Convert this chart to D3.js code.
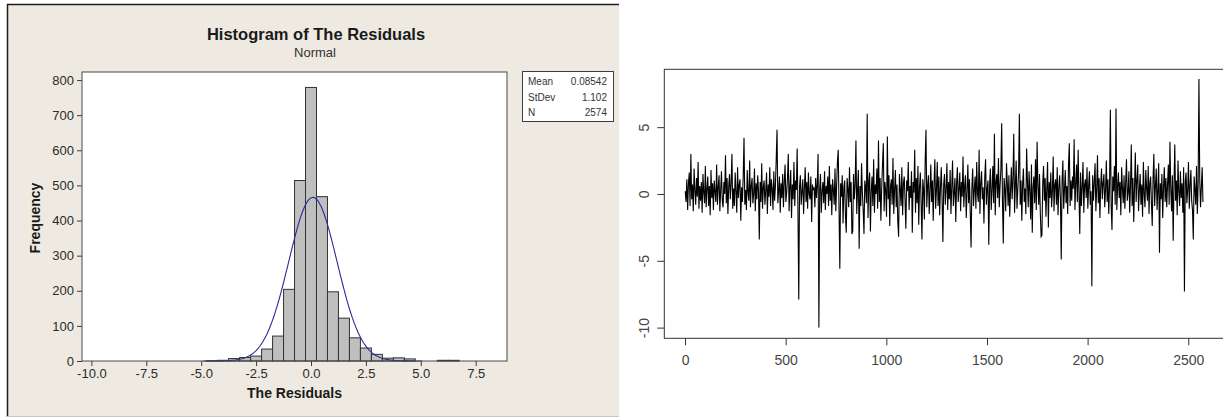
<!DOCTYPE html>
<html>
<head>
<meta charset="utf-8">
<script src="https://cdn.jsdelivr.net/npm/d3@7"></script>
<style>
  html, body { margin: 0; padding: 0; background: #fff; }
  svg { display: block; }
  .mt { font-family: "Liberation Sans", Arial, sans-serif; }
  .rt { font-family: "Liberation Sans", Arial, sans-serif; }
</style>
</head>
<body>
<svg id="chart"></svg>
<script>
// histogram bins (centre of each 0.5 wide bin) and counts
const binCenters = [-4.5, -4.0, -3.5, -3.0, -2.5, -2.0, -1.5, -1.0, -0.5, 0.0, 0.5, 1.0, 1.5, 2.0, 2.5, 3.0, 3.5, 4.0, 4.5, 5.0, 5.5, 6.0, 6.5];
const binCounts  = [1, 2, 7, 10, 14, 34, 71, 204, 514, 779, 468, 197, 122, 66, 37, 19, 8, 9, 6, 0, 0, 2, 2];
const binWidth = 0.5;

const histXTicks = [-10.0, -7.5, -5.0, -2.5, 0.0, 2.5, 5.0, 7.5];
const histYTicks = [0, 100, 200, 300, 400, 500, 600, 700, 800];

const statLabels = ["Mean", "StDev", "N"];
const statValues = ["0.08542", "1.102", "2574"];
const fitMean = 0.08542, fitSd = 1.102, fitN = 2574;

// residual series, one value every 4th observation (obs 1, 5, 9, ...)
const resA = [
  0.2,-0.6,1.1,-1.2,0.8,1.6,-0.9,3.0,-0.4,0.7,-1.3,1.9,0.3,-0.8,1.2,-0.2,2.4,-1.1,0.6,-0.5,
  0.9,-1.4,1.5,0.1,-0.7,2.1,-1.0,0.4,1.3,-0.9,0.6,-1.6,1.8,-0.3,0.8,-1.2,1.0,0.2,-0.6,2.2,
  -0.8,0.5,1.4,-1.3,0.3,1.7,-0.5,-1.0,0.9,0.0,2.9,-0.7,1.2,-1.5,0.6,1.5,-0.4,0.8,3.0,-1.1,
  0.4,-0.9,1.6,0.2,-1.4,2.0,-0.3,0.7,1.1,-2.0,0.5,-0.6,1.3,4.2,-0.8,0.3,-1.2,1.8,0.1,-0.5,
  2.5,-1.0,0.6,1.2,-0.7,0.0,1.9,-1.3,0.8,-0.4,1.4,0.2,-3.4,0.9,-0.6,2.3,-1.1,0.5,1.0,-0.8,
  0.3,1.6,-1.5,0.7,-0.2,2.0,-0.9,1.1,0.4,-1.2,1.7,-0.5,0.6,2.6,4.8,-0.7,0.2,1.3,-1.4,0.8,
  -0.3,1.5,-1.0,0.9,2.2,-0.6,0.1,1.2,3.0,-1.3,0.5,1.8,-1.8,0.7,-0.4,2.4,-0.9,1.0,0.3,3.4,
  -1.2,-7.9,0.6,1.4,-0.8,0.2,1.1,-1.5,0.4,2.0,-0.6,0.9,-1.1,1.6,0.0,-0.4,1.3,-2.1,0.7,0.3
];
const resB = [
  0.5,-1.0,1.2,-0.3,0.8,3.0,-10.0,0.4,1.5,-1.4,0.2,0.9,-0.7,1.7,-1.2,0.6,0.0,1.3,-0.9,2.1,
  -0.5,0.7,-1.6,1.1,0.3,-0.8,1.9,-1.3,0.6,2.4,3.3,-1.1,-5.6,0.8,-0.2,1.4,-2.2,0.5,1.0,-1.7,
  -2.9,1.2,0.4,-1.0,2.0,-0.6,0.9,-3.0,-2.8,1.5,-0.4,0.7,4.0,-1.5,0.3,1.8,-4.1,0.6,-0.9,2.3,
  0.1,-1.2,-3.0,1.0,0.5,-0.7,6.0,-1.8,0.8,1.6,-2.8,0.2,1.3,-0.9,2.6,-1.4,0.7,0.0,1.9,-1.1,
  4.0,-0.6,1.2,-2.0,0.5,2.2,3.8,-1.3,0.9,0.2,-1.7,4.3,-0.4,1.4,-2.4,0.6,1.1,-0.8,2.7,-1.5,
  0.3,1.8,-1.0,0.7,-2.1,-3.2,1.5,0.4,-0.9,2.0,-1.6,0.8,1.3,-0.5,-2.6,1.0,0.2,2.4,-1.2,0.6,
  -0.3,1.7,-2.9,0.9,0.1,3.3,-1.4,1.2,-0.7,2.1,-2.3,0.5,1.6,-0.8,-3.4,1.1,0.4,-1.9,2.5,4.8,
  -1.0,0.6,1.4,-1.5,0.2,2.2,-0.6,1.0,-2.0,0.8,2.6,-1.1,0.3,2.4,-0.9,1.3,-1.6,0.5,2.0,-0.4
];
const resC = [
  -3.6,0.7,1.5,-0.8,0.3,2.3,-1.2,0.9,-0.4,1.8,-1.5,0.5,2.5,-0.9,0.1,1.2,-2.1,0.8,2.0,-0.6,
  0.4,1.6,-1.3,0.9,-0.2,2.8,-1.0,0.6,1.4,-1.8,0.2,2.2,-0.7,1.1,-1.4,-4.0,0.5,1.9,-0.9,0.3,
  1.3,-1.1,2.4,0.0,-0.6,3.3,-1.5,0.8,1.7,-0.4,0.5,-2.2,1.2,2.6,-0.8,0.4,1.0,-3.8,0.7,1.9,
  -1.2,0.3,2.1,-0.7,4.5,-1.6,0.9,1.5,-0.3,2.7,-1.0,0.6,1.8,5.3,-0.5,-3.7,1.2,0.4,-1.3,2.3,
  0.8,-0.9,1.4,-1.7,0.2,2.0,-0.4,1.1,4.5,-1.4,0.6,2.5,-1.1,0.3,1.6,6.0,-0.8,1.0,-2.0,0.7,
  1.9,-0.6,0.4,-1.5,3.4,0.9,-1.0,1.7,0.2,-1.9,2.2,-2.9,0.5,1.3,-0.7,2.6,-1.2,3.9,0.6,-0.8,
  1.5,-1.4,-3.2,-3.1,0.8,2.1,-0.5,1.2,-1.7,0.4,2.4,-2.5,0.9,-0.3,1.6,-1.0,0.2,2.8,-1.3,0.7,
  1.1,-0.8,2.0,-1.6,0.5,1.4,-0.4,-4.9,0.9,2.5,-1.1,0.3,1.8,-0.7,0.6,-1.5,2.2,3.8,-0.9,1.0
];
const resD = [
  -0.5,1.3,0.4,4.1,-1.2,0.8,2.2,-0.6,3.3,0.1,-3.0,1.6,-0.9,0.5,2.4,-1.4,0.7,1.1,-0.3,2.0,
  -1.1,0.6,1.7,-0.8,0.2,-6.9,1.4,-0.5,0.9,2.3,-1.3,0.4,2.9,-0.7,1.2,-1.8,0.6,1.9,-0.4,0.8,
  1.5,-1.0,0.3,2.5,-0.6,1.1,-1.5,0.7,6.3,-0.9,-2.7,1.3,0.2,2.1,-0.8,6.4,-1.2,0.5,1.6,-0.3,
  0.9,-1.6,2.0,0.4,-0.7,1.4,-1.1,0.8,2.6,-0.5,0.1,1.7,-1.4,0.6,3.7,-0.9,1.2,-2.1,0.5,3.1,
  -0.6,1.0,2.2,-1.3,0.3,1.5,-0.8,0.7,-1.7,2.4,0.0,-1.0,1.8,0.4,-0.5,2.1,-1.5,0.9,1.3,-0.7,
  -2.4,1.1,3.0,-0.9,0.6,1.9,-1.2,0.3,2.3,-4.4,0.8,-0.4,1.5,-1.8,0.5,2.0,-0.6,1.2,-1.0,0.7,
  2.2,-0.8,3.9,0.4,-1.3,1.4,-3.5,0.6,3.7,-0.5,1.0,-1.6,2.5,0.2,-0.9,1.7,-0.3,0.8,-1.4,2.0,
  -7.3,0.9,1.6,-0.7,0.3,2.4,-1.1,0.6,1.8,-0.5,-1.2,-3.4,1.3,0.4,-0.8,2.1,-1.5,0.7,8.6,1.1,
  -1.0,0.5,2.0,-0.6
];
const sampleStep = 4;
const seriesXTicks = [0, 500, 1000, 1500, 2000, 2500];
const seriesYTicks = [-10, -5, 0, 5];

const W = 1223, H = 418;
const svg = d3.select("#chart").attr("width", W).attr("height", H);

// ---------- left: Minitab style histogram ----------
const panel = svg.append("g").attr("class", "mt");

panel.append("rect")
    .attr("x", 7).attr("y", 4).attr("width", 612).attr("height", 413)
    .attr("fill", "#eeeae1");
panel.append("path")
    .attr("d", "M7.5,417 V4.5 H619")
    .attr("fill", "none").attr("stroke", "#1e1e1e").attr("stroke-width", 1.5);
panel.append("line")
    .attr("x1", 7).attr("x2", 619).attr("y1", 416.5).attr("y2", 416.5)
    .attr("stroke", "#c8c6c0");

const hx = d3.scaleLinear().domain([-10.428, 8.925]).range([82, 507]);
const hy = d3.scaleLinear().domain([0, 823]).range([361, 72]);

panel.append("rect")
    .attr("x", 82).attr("y", 72).attr("width", 425).attr("height", 289)
    .attr("fill", "#fff");

panel.selectAll(".bar")
    .data(binCenters.map((c, i) => ({c, n: binCounts[i]})).filter(d => d.n > 0))
    .enter().append("rect")
    .attr("class", "bar")
    .attr("x", d => hx(d.c - binWidth / 2))
    .attr("width", d => hx(d.c + binWidth / 2) - hx(d.c - binWidth / 2))
    .attr("y", d => hy(d.n))
    .attr("height", d => hy(0) - hy(d.n))
    .attr("fill", "#bfbfbf")
    .attr("stroke", "#333")
    .attr("stroke-width", 1);

// fitted normal curve from the stats in the box
const pdf = x => fitN * binWidth / (fitSd * Math.sqrt(2 * Math.PI)) * Math.exp(-0.5 * ((x - fitMean) / fitSd) ** 2);
const curveXs = d3.range(-4.9, 5.1, 0.05);
panel.append("path")
    .datum(curveXs)
    .attr("d", d3.line().x(x => hx(x)).y(x => hy(pdf(x))))
    .attr("fill", "none")
    .attr("stroke", "#2a2a9c")
    .attr("stroke-width", 1.1);

panel.append("rect")
    .attr("x", 82).attr("y", 72).attr("width", 425).attr("height", 289)
    .attr("fill", "none").attr("stroke", "#4a4a4a");

const hAxisX = panel.append("g")
    .attr("transform", "translate(0,361)")
    .call(d3.axisBottom(hx).tickValues(histXTicks).tickFormat(d => d.toFixed(1)).tickSize(5).tickPadding(3));
const hAxisY = panel.append("g")
    .attr("transform", "translate(82,0)")
    .call(d3.axisLeft(hy).tickValues(histYTicks).tickFormat(d => String(d)).tickSize(5).tickPadding(3));
[hAxisX, hAxisY].forEach(a => {
    a.select(".domain").remove();
    a.selectAll("line").attr("stroke", "#3c3c3c");
    a.selectAll("text").attr("fill", "#2a2a2a").style("font-size", "13px")
        .style("font-family", "'Liberation Sans', Arial, sans-serif");
});

panel.append("text")
    .attr("x", 316).attr("y", 40)
    .attr("text-anchor", "middle")
    .style("font-size", "16.5px").style("font-weight", "bold").attr("fill", "#1a1a1a")
    .text("Histogram of The Residuals");
panel.append("text")
    .attr("x", 315).attr("y", 57)
    .attr("text-anchor", "middle")
    .style("font-size", "13px").attr("fill", "#333")
    .text("Normal");
panel.append("text")
    .attr("x", 294.5).attr("y", 398)
    .attr("text-anchor", "middle")
    .style("font-size", "14px").style("font-weight", "bold").attr("fill", "#1a1a1a")
    .text("The Residuals");
panel.append("text")
    .attr("transform", "translate(40,218) rotate(-90)")
    .attr("text-anchor", "middle")
    .style("font-size", "14px").style("font-weight", "bold").attr("fill", "#1a1a1a")
    .text("Frequency");

// stats box
const box = panel.append("g");
box.append("rect")
    .attr("x", 522.5).attr("y", 71.5).attr("width", 91).attr("height", 50)
    .attr("fill", "#fff").attr("stroke", "#3c3c3c");
statLabels.forEach((s, i) => {
    box.append("text").attr("x", 528).attr("y", 85 + i * 15.5)
        .style("font-size", "10px").attr("fill", "#333").text(s);
    box.append("text").attr("x", 607).attr("y", 85 + i * 15.5)
        .attr("text-anchor", "end")
        .style("font-size", "10px").attr("fill", "#333").text(statValues[i]);
});

// ---------- right: R style index plot ----------
const rp = svg.append("g").attr("class", "rt");
const rx = d3.scaleLinear().domain([-103, 2677]).range([664.3, 1223.9]);
const ry = d3.scaleLinear().domain([-10.8, 9.33]).range([338.3, 69.3]);

const series = resA.concat(resB, resC, resD);
rp.append("path")
    .datum(series)
    .attr("d", d3.line().x((d, i) => rx(1 + i * sampleStep)).y(d => ry(d)))
    .attr("fill", "none")
    .attr("stroke", "#000")
    .attr("stroke-width", 1.1);

rp.append("rect")
    .attr("x", rx(-103)).attr("y", ry(9.33))
    .attr("width", rx(2677) - rx(-103)).attr("height", ry(-10.8) - ry(9.33))
    .attr("fill", "none").attr("stroke", "#333");

const rAxisX = rp.append("g")
    .attr("transform", `translate(0,${ry(-10.8)})`)
    .call(d3.axisBottom(rx).tickValues(seriesXTicks).tickFormat(d => String(d)).tickSize(7).tickPadding(10));
const rAxisY = rp.append("g")
    .attr("transform", `translate(${rx(-103)},0)`)
    .call(d3.axisLeft(ry).tickValues(seriesYTicks).tickSize(7).tickFormat(d => String(d)));
[rAxisX, rAxisY].forEach(a => {
    a.select(".domain").remove();
    a.selectAll("line").attr("stroke", "#333");
    a.selectAll("text").attr("fill", "#444").style("font-size", "14px")
        .style("font-family", "'Liberation Sans', Arial, sans-serif");
});
rAxisY.selectAll("text")
    .attr("x", null).attr("dy", null)
    .attr("text-anchor", "middle")
    .attr("transform", "translate(-15,0) rotate(-90)")
    .attr("y", 0);
</script>
</body>
</html>
